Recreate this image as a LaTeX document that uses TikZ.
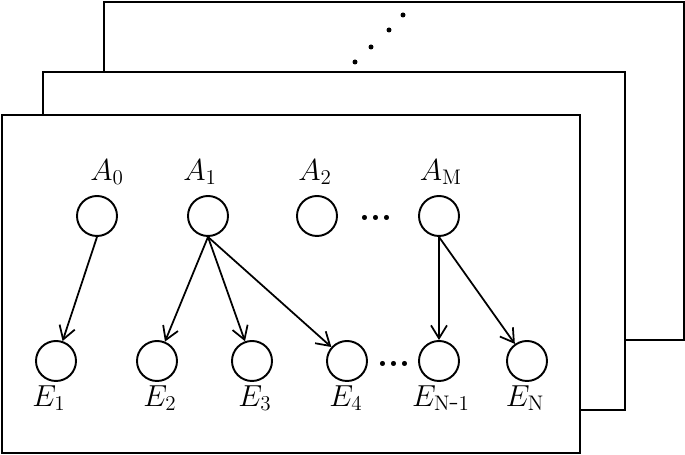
\documentclass[tikz,border=0pt]{standalone}
\usepackage{amsmath}
\usetikzlibrary{arrows.meta}

\tikzset{
  state/.style={draw, circle, minimum size=0.8cm, inner sep=0pt, line width=1.1pt},
  sheet/.style={draw, fill=white, line width=1.1pt},
  arr/.style={-{Straight Barb[length=2.6mm, width=3.2mm]}, line width=1pt},
  lbl/.style={font=\fontsize{17}{20}\selectfont, inner sep=0pt},
  gap/.style={font=\fontsize{20}{24}\selectfont\bfseries, inner sep=0pt}
}

\begin{document}
\begin{tikzpicture}
\useasboundingbox (0,0) rectangle (13.7,9.1);

%the stacked sheets
\draw [sheet] (2.08,2.3) rectangle (13.68,9.06);
\fill (8.06,8.8) circle (0.05);
\fill (7.78,8.5) circle (0.05);
\fill (7.42,8.16) circle (0.05);
\fill (7.1,7.86) circle (0.05);
\draw [sheet] (0.86,0.9) rectangle (12.5,7.66);
\draw [sheet] (0.04,0.04) rectangle (11.6,6.8);

%the top row
\node [state] (A0) at (1.94,4.78) {};
\node [state] (A1) at (4.16,4.78) {};
\node [state] (A2) at (6.34,4.78) {};
\node [state] (AM) at (8.78,4.78) {};
\node [gap] (adots) at (7.52,4.74) {...};

\node [lbl] (lA0) at (2.14,5.66) {$A_0$};
\node [lbl] (lA1) at (4.0,5.66) {$A_1$};
\node [lbl] (lA2) at (6.3,5.66) {$A_2$};
\node [lbl] (lAM) at (8.82,5.66) {$A_{\mathrm{M}}$};

%the bottom row
\node [state] (E1) at (1.12,1.88) {};
\node [state] (E2) at (3.14,1.88) {};
\node [state] (E3) at (5.04,1.88) {};
\node [state] (E4) at (6.94,1.88) {};
\node [state] (EN1) at (8.78,1.88) {};
\node [state] (EN) at (10.54,1.88) {};
\node [gap] (edots) at (7.88,1.82) {...};

\node [lbl] (lE1) at (0.98,1.14) {$E_1$};
\node [lbl] (lE2) at (3.2,1.14) {$E_2$};
\node [lbl] (lE3) at (5.1,1.14) {$E_3$};
\node [lbl] (lE4) at (6.92,1.14) {$E_4$};
\node [lbl] (lEN1) at (8.82,1.14) {$E_{\mathrm{N\mbox{-}1}}$};
\node [lbl] (lEN) at (10.5,1.14) {$E_{\mathrm{N}}$};

%the arrows
\draw [arr] (A0.south) -- (E1);
\draw [arr] (A1.south) -- (E2);
\draw [arr] (A1.south) -- (E3);
\draw [arr] (A1.south) -- (E4);
\draw [arr] (AM.south) -- (EN1);
\draw [arr] (AM.south) -- (EN);
\end{tikzpicture}
\end{document}
